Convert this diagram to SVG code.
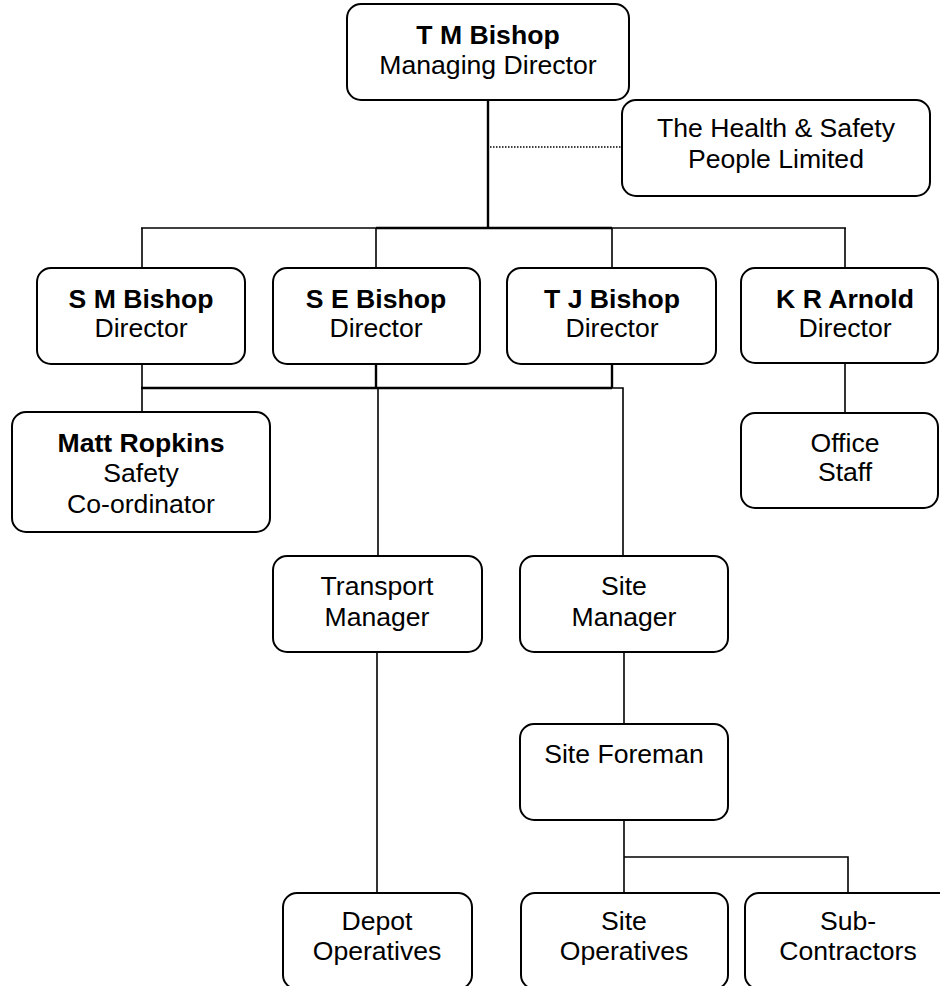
<svg xmlns="http://www.w3.org/2000/svg" width="940" height="986" viewBox="0 0 940 986">
<style>
.box{fill:#fff;stroke:#000;stroke-width:2}
text{font-family:"Liberation Sans",Arial,sans-serif;font-size:26.6px;fill:#000;text-anchor:middle}
.b{font-weight:bold}
.ln{stroke:#000;stroke-width:1.6;fill:none}
.thk{stroke:#000;stroke-width:2.4;fill:none}
.dot{stroke:#000;stroke-width:1.5;stroke-dasharray:1.5 1.5;fill:none}
</style>
<rect width="940" height="986" fill="#fff"/>
<g id="connectors">
<line class="thk" x1="488" y1="100" x2="488" y2="229"/>
<line class="dot" x1="490" y1="147" x2="622" y2="147"/>
<line class="ln" x1="141" y1="228" x2="846" y2="228"/>
<line class="thk" x1="376" y1="228" x2="612" y2="228"/>
<line class="ln" x1="142" y1="228" x2="142" y2="268"/>
<line class="ln" x1="376" y1="228" x2="376" y2="268"/>
<line class="ln" x1="612" y1="228" x2="612" y2="268"/>
<line class="ln" x1="845" y1="228" x2="845" y2="268"/>
<line class="ln" x1="142" y1="364" x2="142" y2="412"/>
<line class="thk" x1="376" y1="364" x2="376" y2="388"/>
<line class="thk" x1="612" y1="364" x2="612" y2="388"/>
<line class="thk" x1="141" y1="388" x2="612" y2="388"/>
<polyline class="ln" points="612,388 623,388 623,556"/>
<line class="ln" x1="378" y1="388" x2="378" y2="556"/>
<line class="ln" x1="845" y1="363" x2="845" y2="412"/>
<line class="ln" x1="377" y1="652" x2="377" y2="893"/>
<line class="ln" x1="624" y1="652" x2="624" y2="724"/>
<line class="ln" x1="624" y1="820" x2="624" y2="893"/>
<polyline class="ln" points="624,857 848,857 848,893"/>
</g>
<g id="tm"><rect class="box" x="347" y="4" width="282" height="96" rx="14"/><text class="b" x="488" y="44">T M Bishop</text><text x="488" y="74">Managing Director</text></g>
<g id="hs"><rect class="box" x="622" y="100" width="308" height="96" rx="14"/><text x="776" y="137">The Health &amp; Safety</text><text x="776" y="168">People Limited</text></g>
<g id="sm"><rect class="box" x="37" y="268" width="208" height="96" rx="14"/><text class="b" x="141" y="308">S M Bishop</text><text x="141" y="337">Director</text></g>
<g id="se"><rect class="box" x="273" y="268" width="207" height="96" rx="14"/><text class="b" x="376" y="308">S E Bishop</text><text x="376" y="337">Director</text></g>
<g id="tj"><rect class="box" x="507" y="268" width="209" height="96" rx="14"/><text class="b" x="612" y="308">T J Bishop</text><text x="612" y="337">Director</text></g>
<g id="kr"><rect class="box" x="741" y="268" width="197" height="95" rx="14"/><text class="b" x="845" y="308">K R Arnold</text><text x="845" y="337">Director</text></g>
<g id="matt"><rect class="box" x="12" y="412" width="258" height="120" rx="14"/><text class="b" x="141" y="452">Matt Ropkins</text><text x="141" y="482">Safety</text><text x="141" y="513">Co-ordinator</text></g>
<g id="office"><rect class="box" x="741" y="413" width="197" height="95" rx="14"/><text x="845" y="452">Office</text><text x="845" y="481">Staff</text></g>
<g id="transport"><rect class="box" x="273" y="556" width="209" height="96" rx="14"/><text x="377" y="595">Transport</text><text x="377" y="626">Manager</text></g>
<g id="sitemgr"><rect class="box" x="520" y="556" width="208" height="96" rx="14"/><text x="624" y="595">Site</text><text x="624" y="626">Manager</text></g>
<g id="foreman"><rect class="box" x="520" y="724" width="208" height="96" rx="14"/><text x="624" y="763">Site Foreman</text></g>
<g id="depot"><rect class="box" x="283" y="893" width="189" height="96" rx="14"/><text x="377" y="930">Depot</text><text x="377" y="960">Operatives</text></g>
<g id="siteops"><rect class="box" x="521" y="893" width="207" height="96" rx="14"/><text x="624" y="930">Site</text><text x="624" y="960">Operatives</text></g>
<g id="sub"><rect class="box" x="745" y="893" width="208" height="96" rx="14"/><text x="848" y="930">Sub-</text><text x="848" y="960">Contractors</text></g>
</svg>
